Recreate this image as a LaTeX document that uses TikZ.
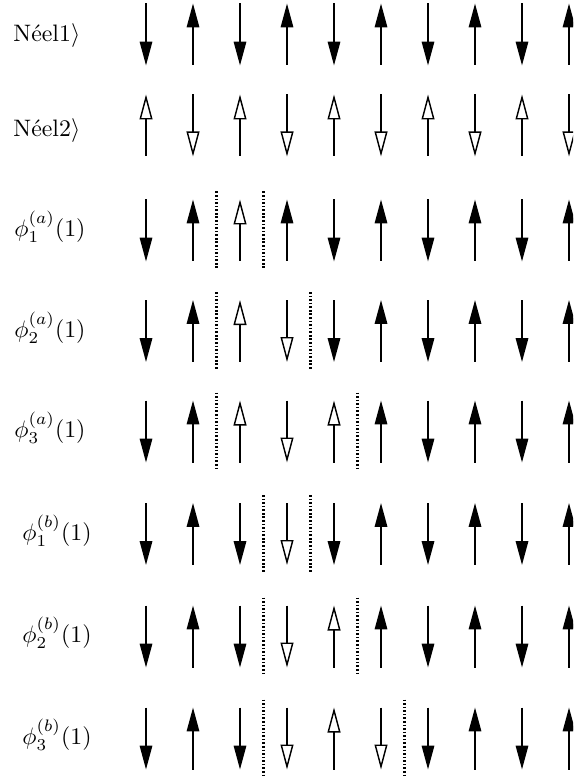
\documentclass[tikz,border=0pt]{standalone}
\usetikzlibrary{arrows.meta}
\tikzset{
  spinline/.style={line width=0.75pt},
  sD/.style={spinline,-{Triangle[length=10pt,width=5.2pt]}},
  sU/.style={spinline,{Triangle[length=10pt,width=5.2pt]}-},
  sd/.style={spinline,-{Triangle[open,length=10.5pt,width=5.4pt,line width=0.6pt]}},
  su/.style={spinline,{Triangle[open,length=10.5pt,width=5.4pt,line width=0.6pt]}-},
  wall/.style={line width=0.9pt,dash pattern=on 0.7pt off 0.8pt},
  lab/.style={anchor=base west,inner sep=0pt}
}
\begin{document}
\begin{tikzpicture}[x=0.42pt,y=-0.42pt]
\useasboundingbox (0,0) rectangle (573,782);
\clip (0,0) rectangle (573,782);
% labels
\node[lab] (n1) at (13,42) {N\'eel1$\rangle$};
\node[lab] (n2) at (13,137) {N\'eel2$\rangle$};
\node[lab] (a1) at (14,236) {$\phi^{(a)}_1(1)$};
\node[lab] (a2) at (14,337) {$\phi^{(a)}_2(1)$};
\node[lab] (a3) at (14,437) {$\phi^{(a)}_3(1)$};
\node[lab] (b1) at (22,540) {$\phi^{(b)}_1(1)$};
\node[lab] (b2) at (22,642) {$\phi^{(b)}_2(1)$};
\node[lab] (b3) at (22,744) {$\phi^{(b)}_3(1)$};
% spins
\foreach \c/\lst in {
  34.5/{D,U,D,U,D,U,D,U,D,U},
  125.5/{u,d,u,d,u,d,u,d,u,d},
  230.5/{D,U,u,U,D,U,D,U,D,U},
  331/{D,U,u,d,D,U,D,U,D,U},
  431.5/{D,U,u,d,u,U,D,U,D,U},
  534/{D,U,D,d,D,U,D,U,D,U},
  636.5/{D,U,D,d,u,U,D,U,D,U},
  738.5/{D,U,D,d,u,d,D,U,D,U}}{
  \foreach \t [count=\i from 0] in \lst {
    \draw[s\t] ({146+47*\i},{\c-31}) -- ({146+47*\i},{\c+31});
  }
}
% domain walls
\foreach \c/\xa/\xb in {230.5/216.5/263.5, 331/216.5/310.5, 431.5/216.5/357.5,
  534/263.5/310.5, 636.5/263.5/357.5, 738.5/263.5/404.5}{
  \draw[wall] (\xa,{\c-39}) -- (\xa,{\c+39});
  \draw[wall] (\xb,{\c-39}) -- (\xb,{\c+39});
}
\end{tikzpicture}
\end{document}
